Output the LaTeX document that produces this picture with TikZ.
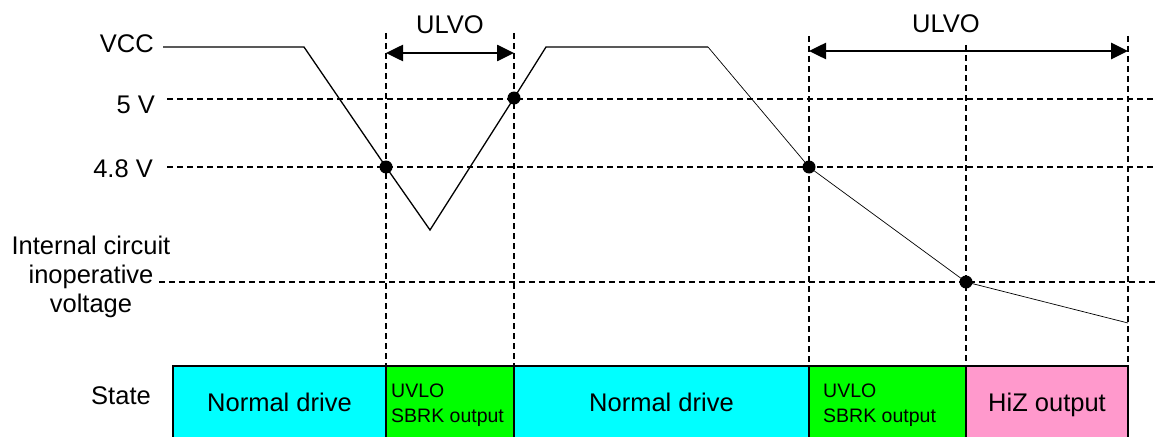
\documentclass[tikz,border=0pt]{standalone}
\usepackage{fontspec}
\setmainfont{Liberation Sans}
\usetikzlibrary{arrows.meta}
\definecolor{boxcyan}{RGB}{0,255,255}
\definecolor{boxgreen}{RGB}{0,255,0}
\definecolor{boxpink}{RGB}{255,153,204}
\begin{document}
\begin{tikzpicture}[x=1pt,y=-1pt,
  lbl/.style={font=\fontsize{25.5}{29}\selectfont, inner sep=0pt},
  smalltxt/.style={font=\fontsize{19.5}{24}\selectfont, inner sep=0pt, anchor=base west},
  guide/.style={dash pattern=on 6pt off 4pt, line width=1.2pt},
  sig/.style={line width=1.3pt, line join=miter},
  thinsig/.style={line width=0.7pt},
  dot/.style={circle, fill=black, inner sep=0pt, minimum size=13pt},
  span/.style={line width=2.6pt, {Triangle[length=17pt,width=16pt]}-{Triangle[length=17pt,width=16pt]}},
  statebox/.style={draw=black, line width=1.6pt, anchor=north west, minimum height=72pt,
    inner sep=0pt, outer sep=0pt, text depth=0pt, font=\fontsize{25.5}{29}\selectfont},
]
\useasboundingbox (0,0) rectangle (1155,436);

% state boxes
\node[statebox, fill=boxcyan, minimum width=213pt] (b1) at (173,366) {Normal drive};
\node[statebox, fill=boxgreen, minimum width=128pt] (b2) at (386,366) {};
\node[statebox, fill=boxcyan, minimum width=295pt] (b3) at (514,366) {Normal drive};
\node[statebox, fill=boxgreen, minimum width=157pt] (b4) at (809,366) {};
\node[statebox, fill=boxpink, minimum width=162pt] (b5) at (966,366) {HiZ output};
\node[smalltxt] (t2a) at (391,397) {UVLO};
\node[smalltxt] (t2b) at (391,422) {SBRK output};
\node[smalltxt] (t4a) at (823,397) {UVLO};
\node[smalltxt] (t4b) at (823,422) {SBRK output};

% labels
\node[lbl, anchor=east] (lvcc) at (154,44) {VCC};
\node[lbl, anchor=east] (l5) at (155,105) {5 V};
\node[lbl, anchor=east] (l48) at (153,169) {4.8 V};
\node[lbl, align=center] (lint) at (91,277) {Internal circuit\\inoperative\\voltage};
\node[lbl] (lstate) at (121,396) {State};
\node[lbl] (u1) at (450,24.5) {ULVO};
\node[lbl] (u2) at (946,24) {ULVO};

% guide coordinates
\coordinate (g1) at (386,33);
\coordinate (g2) at (514,33);
\coordinate (g3) at (809,36);
\coordinate (g4) at (966,45);
\coordinate (g5) at (1128,36);
\coordinate (h5a) at (167,99);   \coordinate (h5b) at (1155,99);
\coordinate (h48a) at (167,167); \coordinate (h48b) at (1155,167);
\coordinate (hia) at (159,282);  \coordinate (hib) at (1155,282);

\draw[guide] (g1) -- (b2.north west);
\draw[guide] (g2) -- (b3.north west);
\draw[guide] (g3) -- (b4.north west);
\draw[guide] (g4) -- (b5.north west);
\draw[guide] (g5) -- (b5.north east);
\draw[guide] (h5a) -- (h5b);
\draw[guide] (h48a) -- (h48b);
\draw[guide] (hia) -- (hib);

% signal
\coordinate (v0) at (163,47);
\coordinate (v1) at (304,47);
\coordinate (c1) at (386,167);
\coordinate (vb) at (430,230);
\coordinate (c2) at (514,98);
\coordinate (v2) at (546,47);
\coordinate (v3) at (708,47);
\coordinate (c3) at (809,167);
\coordinate (c4) at (966,282);
\coordinate (vend) at (1128,323);
\draw[sig] (v0) -- (v1) -- (c1) -- (vb) -- (c2) -- (v2) -- (v3);
\draw[thinsig] (v3) -- (c3) -- (c4) -- (vend);
\node[dot] (d1) at (c1) {};
\node[dot] (d2) at (c2) {};
\node[dot] (d3) at (c3) {};
\node[dot] (d4) at (c4) {};

% ULVO spans
\coordinate (a1l) at (386,53);  \coordinate (a1r) at (514,53);
\coordinate (a2l) at (809,51);  \coordinate (a2r) at (1128,51);
\draw[span] (a1l) -- (a1r);
\draw[span] (a2l) -- (a2r);
\end{tikzpicture}
\end{document}
